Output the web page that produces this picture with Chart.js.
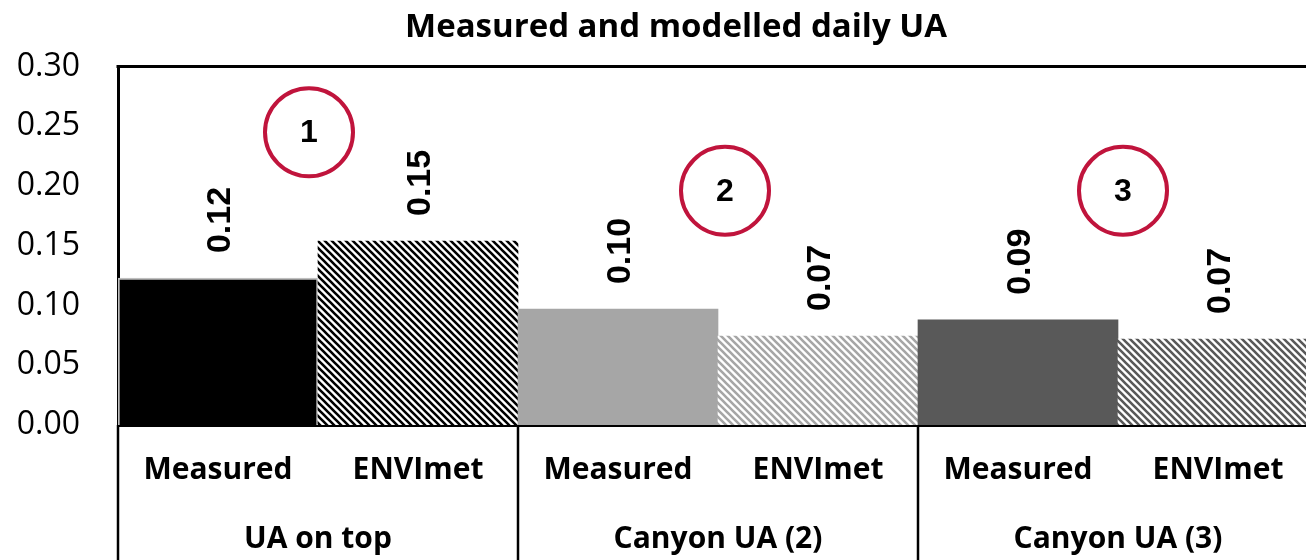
<!DOCTYPE html>
<html>
<head>
<meta charset="utf-8">
<title>Measured and modelled daily UA</title>
<script src="https://cdn.jsdelivr.net/npm/chart.js@4"></script>
<style>
  html, body { margin: 0; padding: 0; background: #fff; overflow: hidden; }
  #wrap { width: 1352px; height: 560px; }
</style>
</head>
<body>
<div id="wrap"><canvas id="chart" width="1352" height="560"></canvas></div>
<script>
const categories = ["Measured", "ENVImet", "Measured", "ENVImet", "Measured", "ENVImet"];
const groups = ["UA on top", "Canyon UA (2)", "Canyon UA (3)"];
const uaValues = [0.123, 0.154, 0.097, 0.0745, 0.088, 0.072];
const yTicks = [0, 0.05, 0.1, 0.15, 0.2, 0.25, 0.3];

// numbered circles: position in category units and y value
const markerLabels = ["1", "2", "3"];
const markerX = [0.455, 2.535, 4.525];
const markerY = [0.245, 0.196, 0.196];

const FONT = "'Open Sans', sans-serif";
const ARIAL = "'Liberation Sans', Arial, sans-serif";

function makePattern(color) {
  const s = 7;
  const c = document.createElement("canvas");
  c.width = s;
  c.height = s;
  const g = c.getContext("2d");
  g.fillStyle = "#fff";
  g.fillRect(0, 0, s, s);
  g.strokeStyle = color;
  g.lineWidth = 2.6;
  g.beginPath();
  for (let k = -1; k <= 1; k++) {
    g.moveTo(k * s - 1, -1);
    g.lineTo(k * s + s + 1, s + 1);
  }
  g.stroke();
  return g.createPattern(c, "repeat");
}

const ctx = document.getElementById("chart").getContext("2d");

const barColors = [
  "#000000",
  makePattern("#000000"),
  "#a6a6a6",
  makePattern("#a6a6a6"),
  "#595959",
  makePattern("#595959"),
];

const extrasPlugin = {
  id: "extras",
  afterDraw(chart) {
    const { ctx, chartArea, scales } = chart;
    const x = scales.x;
    const y = scales.y;
    ctx.save();

    // top frame line
    ctx.strokeStyle = "#000";
    ctx.lineWidth = 3;
    ctx.beginPath();
    ctx.moveTo(chartArea.left - 1.5, chartArea.top);
    ctx.lineTo(chartArea.right, chartArea.top);
    ctx.stroke();

    // group dividers below the axis
    ctx.lineWidth = 2.5;
    for (let k = 0; k <= groups.length; k++) {
      const px = Math.round(x.getPixelForValue(2 * k - 0.5));
      ctx.beginPath();
      ctx.moveTo(px, chartArea.bottom);
      ctx.lineTo(px, chart.height);
      ctx.stroke();
    }

    // group labels
    ctx.fillStyle = "#000";
    ctx.font = "bold 30px " + FONT;
    ctx.textAlign = "center";
    ctx.textBaseline = "middle";
    groups.forEach((g, k) => {
      ctx.fillText(g, x.getPixelForValue(2 * k + 0.5), chartArea.bottom + 114);
    });

    // value labels, rotated
    const meta = chart.getDatasetMeta(0);
    ctx.font = "bold 34px " + ARIAL;
    ctx.textAlign = "left";
    meta.data.forEach((bar, i) => {
      ctx.save();
      ctx.translate(bar.x + 3, bar.y - 25);
      ctx.rotate(-Math.PI / 2);
      ctx.fillText(uaValues[i].toFixed(2), 0, 0);
      ctx.restore();
    });

    // numbered circles
    markerLabels.forEach((label, i) => {
      const cx = x.getPixelForValue(markerX[i]);
      const cy = y.getPixelForValue(markerY[i]);
      ctx.beginPath();
      ctx.arc(cx, cy, 44, 0, Math.PI * 2);
      ctx.strokeStyle = "#c0143c";
      ctx.lineWidth = 4;
      ctx.stroke();
      ctx.fillStyle = "#000";
      ctx.font = "bold 32px " + ARIAL;
      ctx.textAlign = "center";
      ctx.textBaseline = "middle";
      ctx.fillText(label, cx, cy + 1);
    });

    ctx.restore();
  },
};

new Chart(ctx, {
  type: "bar",
  data: {
    labels: categories,
    datasets: [
      {
        label: "Daily UA",
        data: uaValues,
        backgroundColor: barColors,
        borderColor: ["#bfbfbf", "rgba(0,0,0,0)", "rgba(0,0,0,0)", "rgba(0,0,0,0)", "rgba(0,0,0,0)", "rgba(0,0,0,0)"],
        borderWidth: [2, 0, 0, 0, 0, 0],
        borderSkipped: "bottom",
        barPercentage: 1,
        categoryPercentage: 1,
      },
    ],
  },
  options: {
    responsive: false,
    animation: false,
    layout: { padding: 0 },
    plugins: {
      legend: { display: false },
      tooltip: { enabled: false },
      title: {
        display: true,
        text: "Measured and modelled daily UA",
        color: "#000",
        font: { family: FONT, size: 33, weight: "bold" },
        padding: { top: 8, bottom: 19 },
      },
    },
    scales: {
      x: {
        grid: { display: false, drawTicks: false },
        border: { display: true, color: "#000", width: 3 },
        ticks: {
          color: "#000",
          font: { family: FONT, size: 30, weight: "bold" },
          padding: 27,
          autoSkip: false,
          maxRotation: 0,
        },
        afterFit(scale) {
          scale.height = 135;
        },
      },
      y: {
        min: 0,
        max: 0.3,
        grid: { display: false, drawTicks: false },
        border: { display: true, color: "#000", width: 3 },
        afterBuildTicks(scale) {
          scale.ticks = yTicks.map((v) => ({ value: v }));
        },
        ticks: {
          color: "#000",
          padding: 38,
          font: { family: FONT, size: 32 },
          callback: (value) => Number(value).toFixed(2),
        },
        afterFit(scale) {
          scale.width = 118;
        },
      },
      // empty right-hand spacer, keeps the plot running past the window edge
      spacer: {
        type: "linear",
        position: "right",
        grid: { display: false, drawTicks: false },
        border: { display: false },
        ticks: { display: false },
        afterFit(scale) {
          scale.width = 34;
        },
      },
    },
  },
  plugins: [extrasPlugin],
});
</script>
</body>
</html>
